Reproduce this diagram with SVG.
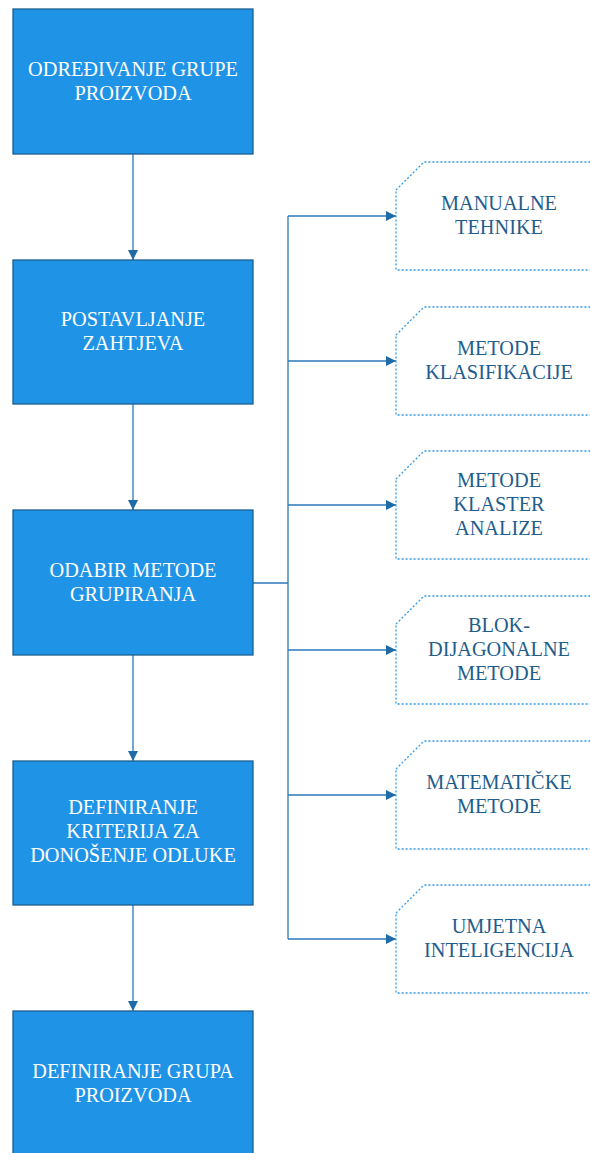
<svg xmlns="http://www.w3.org/2000/svg" width="590" height="1153" viewBox="0 0 590 1153">
<style>
.box{fill:#1f93e6;stroke:#1d5f91;stroke-width:1.3}
.wt{font-family:'Liberation Serif',serif;font-size:20.3px;fill:#ffffff;text-anchor:middle}
.side{fill:#ffffff;stroke:#2f9ae8;stroke-width:1.3;stroke-dasharray:2,2}
.bt{font-family:'Liberation Serif',serif;font-size:20.3px;fill:#1f5d8c;text-anchor:middle}
.ln{fill:none;stroke:#2a78b8;stroke-width:1.3}
</style>
<defs>
<marker id="ah" viewBox="0 0 10 10" refX="10" refY="5" markerWidth="10" markerHeight="10" markerUnits="userSpaceOnUse" orient="auto">
<path d="M0,0 L10,5 L0,10 z" fill="#1f6ba8"/>
</marker>
</defs>
<g id="connectors">
<line class="ln" x1="133" y1="154" x2="133" y2="260" marker-end="url(#ah)"/>
<line class="ln" x1="133" y1="404" x2="133" y2="510" marker-end="url(#ah)"/>
<line class="ln" x1="133" y1="655" x2="133" y2="761" marker-end="url(#ah)"/>
<line class="ln" x1="133" y1="905" x2="133" y2="1011" marker-end="url(#ah)"/>
<polyline class="ln" points="253,583 288,583"/>
<line class="ln" x1="288" y1="216" x2="288" y2="939"/>
<line class="ln" x1="288" y1="216" x2="396" y2="216" marker-end="url(#ah)"/>
<line class="ln" x1="288" y1="361" x2="396" y2="361" marker-end="url(#ah)"/>
<line class="ln" x1="288" y1="505" x2="396" y2="505" marker-end="url(#ah)"/>
<line class="ln" x1="288" y1="650" x2="396" y2="650" marker-end="url(#ah)"/>
<line class="ln" x1="288" y1="795" x2="396" y2="795" marker-end="url(#ah)"/>
<line class="ln" x1="288" y1="939" x2="396" y2="939" marker-end="url(#ah)"/>
</g>
<g id="n1"><rect class="box" x="13" y="9" width="240" height="145"/>
<text class="wt" x="133" y="76">ODREĐIVANJE GRUPE</text><text class="wt" x="133" y="100">PROIZVODA</text></g>
<g id="n2"><rect class="box" x="13" y="260" width="240" height="144"/>
<text class="wt" x="133" y="326">POSTAVLJANJE</text><text class="wt" x="133" y="350">ZAHTJEVA</text></g>
<g id="n3"><rect class="box" x="13" y="510" width="240" height="145"/>
<text class="wt" x="133" y="577">ODABIR METODE</text><text class="wt" x="133" y="601">GRUPIRANJA</text></g>
<g id="n4"><rect class="box" x="13" y="761" width="240" height="144"/>
<text class="wt" x="133" y="814">DEFINIRANJE</text><text class="wt" x="133" y="838">KRITERIJA ZA</text><text class="wt" x="133" y="862">DONOŠENJE ODLUKE</text></g>
<g id="n5"><rect class="box" x="13" y="1011" width="240" height="150"/>
<text class="wt" x="133" y="1078">DEFINIRANJE GRUPA</text><text class="wt" x="133" y="1102">PROIZVODA</text></g>
<g id="s1"><path class="side" d="M396,190 L424,162 L602,162 L602,270 L396,270 Z"/>
<text class="bt" x="499" y="210">MANUALNE</text><text class="bt" x="499" y="234">TEHNIKE</text></g>
<g id="s2"><path class="side" d="M396,335 L424,307 L602,307 L602,415 L396,415 Z"/>
<text class="bt" x="499" y="355">METODE</text><text class="bt" x="499" y="379">KLASIFIKACIJE</text></g>
<g id="s3"><path class="side" d="M396,479 L424,451 L602,451 L602,559 L396,559 Z"/>
<text class="bt" x="499" y="487">METODE</text><text class="bt" x="499" y="511">KLASTER</text><text class="bt" x="499" y="535">ANALIZE</text></g>
<g id="s4"><path class="side" d="M396,624 L424,596 L602,596 L602,704 L396,704 Z"/>
<text class="bt" x="499" y="632">BLOK-</text><text class="bt" x="499" y="656">DIJAGONALNE</text><text class="bt" x="499" y="680">METODE</text></g>
<g id="s5"><path class="side" d="M396,769 L424,741 L602,741 L602,849 L396,849 Z"/>
<text class="bt" x="499" y="789">MATEMATIČKE</text><text class="bt" x="499" y="813">METODE</text></g>
<g id="s6"><path class="side" d="M396,913 L424,885 L602,885 L602,993 L396,993 Z"/>
<text class="bt" x="499" y="933">UMJETNA</text><text class="bt" x="499" y="957">INTELIGENCIJA</text></g>
</svg>
